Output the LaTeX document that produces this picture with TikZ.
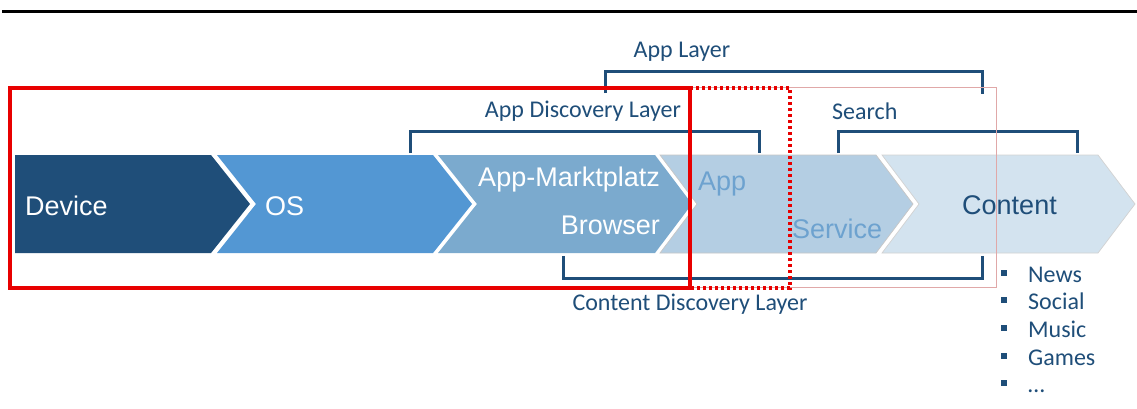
\documentclass[tikz,border=0pt]{standalone}
\usepackage{fontspec}
\setmainfont{Liberation Sans}
\newfontfamily\calfont{Carlito}
\definecolor{cDev}{HTML}{1F4E79}
\definecolor{cOS}{HTML}{5397D3}
\definecolor{cMP}{HTML}{7BAACE}
\definecolor{cApp}{HTML}{B4CEE3}
\definecolor{cCon}{HTML}{D3E3EF}
\definecolor{cAppTxt}{HTML}{6DA2CF}
\definecolor{cNavy}{HTML}{1F4E79}
\definecolor{cRed}{HTML}{E80000}
\definecolor{cPink}{HTML}{E0A8A8}
\tikzset{
  chevtext/.style={inner sep=0pt, font=\fontsize{27}{32}\selectfont},
  labeltext/.style={inner sep=0pt, text=cNavy, font=\calfont\fontsize{24}{28}\selectfont},
  bracket/.style={draw=cNavy, line width=3pt},
  bulletbox/.style={fill=cNavy, draw=none, minimum size=6pt, inner sep=0pt},
  redbox/.style={draw=cRed, line width=3.2pt},
}
\begin{document}
\begin{tikzpicture}[x=1pt,y=-1pt]
\useasboundingbox (0,0) rectangle (1137,408);
\fill[white] (0,0) rectangle (1137,408);
% top rule
\draw[line width=3pt] (2,11) -- (1137,11);
% chevrons
\fill[cDev] (15,155) -- (211,155) -- (250,204) -- (211,253) -- (15,253) -- cycle;
\fill[cOS] (217,155) -- (433,155) -- (472,204) -- (433,253) -- (217,253) -- (256,204) -- cycle;
\fill[cMP] (438,155) -- (655,155) -- (692,204) -- (655,253) -- (438,253) -- (477,204) -- cycle;
\filldraw[fill=cApp, draw=gray!45, line width=0.7pt] (660,155) -- (876,155) -- (913,204) -- (876,253) -- (660,253) -- (697,204) -- cycle;
\filldraw[fill=cCon, draw=gray!35, line width=0.7pt] (882,155) -- (1098,155) -- (1135,204) -- (1098,253) -- (882,253) -- (919,204) -- cycle;
% chevron texts
\node[chevtext, text=white, anchor=base west] (device) at (25,215) {Device};
\node[chevtext, text=white, anchor=base west] (os) at (265,215) {OS};
\node[chevtext, text=white, anchor=base east] (markt) at (660,186) {App-Marktplatz};
\node[chevtext, text=white, anchor=base east] (browser) at (660,234) {Browser};
\node[chevtext, text=cAppTxt, anchor=base west] (app) at (698,190) {App};
\node[chevtext, text=cAppTxt, anchor=base west] (service) at (792,238) {Service};
\node[chevtext, text=cNavy, anchor=base west] (content) at (962,214) {Content};
% brackets
\draw[bracket] (605,93) -- (605,71) -- (982,71) -- (982,94);
\draw[bracket] (410,153) -- (410,131) -- (759,131) -- (759,153);
\draw[bracket] (838,153) -- (838,131) -- (1077,131) -- (1077,153);
\draw[bracket] (563,256) -- (563,278) -- (982,278) -- (982,256);
% labels
\node[labeltext, anchor=base] (lapp) at (682,57) {App Layer};
\node[labeltext, anchor=base] (ldisc) at (583,117) {App Discovery Layer};
\node[labeltext, anchor=base west] (lsearch) at (832,119) {Search};
\node[labeltext, anchor=base] (lcont) at (690,310) {Content Discovery Layer};
% bullet list
\node[bulletbox] (b1) at (1004,273) {};
\node[labeltext, anchor=base west] (item1) at (1028,282) {News};
\node[bulletbox] (b2) at (1004,300) {};
\node[labeltext, anchor=base west] (item2) at (1028,309) {Social};
\node[bulletbox] (b3) at (1004,328) {};
\node[labeltext, anchor=base west] (item3) at (1028,337) {Music};
\node[bulletbox] (b4) at (1004,356) {};
\node[labeltext, anchor=base west] (item4) at (1028,365) {Games};
\node[bulletbox] (b5) at (1004,383) {};
\node[labeltext, anchor=base west] (item5) at (1028,392) {\ldots};
% boxes
\draw[cPink, line width=0.8pt] (690,87) rectangle (996,287);
\draw[redbox] (10,88) rectangle (690,288);
\draw[redbox, dash pattern=on 3pt off 3pt] (690,88) -- (790,88) -- (790,288) -- (690,288);
\end{tikzpicture}
\end{document}
